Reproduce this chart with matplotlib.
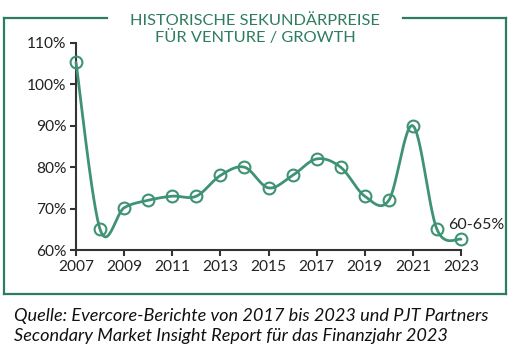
import numpy as np
import matplotlib
matplotlib.use("Agg")
import matplotlib.pyplot as plt
from matplotlib.lines import Line2D

plt.rcParams['font.family'] = ['Lato', 'DejaVu Sans']

years = [2007, 2008, 2009, 2010, 2011, 2012, 2013, 2014, 2015, 2016, 2017,
         2018, 2019, 2020, 2021, 2022, 2023]
values = [105.3, 65, 70.2, 72, 73, 73, 78, 80, 75, 78, 82, 80, 73, 72, 90, 65, 62.6]
xticks = [2007, 2009, 2011, 2013, 2015, 2017, 2019, 2021, 2023]
yticks = [60, 70, 80, 90, 100, 110]
ytick_labels = ["60%", "70%", "80%", "90%", "100%", "110%"]
title_lines = "HISTORISCHE SEKUNDÄRPREISE\nFÜR VENTURE / GROWTH"
end_label = "60-65%"
caption = ("Quelle: Evercore-Berichte von 2017 bis 2023 und PJT Partners\n"
           "Secondary Market Insight Report für das Finanzjahr 2023")

FRAME = "#2e7d5e"
LINE = "#3f9374"
AX = "#333333"


def smooth(x, y, n=30, t=1 / 6):
    x = np.asarray(x, float)
    y = np.asarray(y, float)
    xs, ys = [], []
    for i in range(len(x) - 1):
        p0 = np.array([x[i - 1] if i > 0 else x[i], y[i - 1] if i > 0 else y[i]])
        p1 = np.array([x[i], y[i]])
        p2 = np.array([x[i + 1], y[i + 1]])
        p3 = np.array([x[i + 2], y[i + 2]]) if i + 2 < len(x) else p2
        c1 = p1 + (p2 - p0) * t
        c2 = p2 - (p3 - p1) * t
        s = np.linspace(0, 1, n)[:, None]
        b = ((1 - s) ** 3) * p1 + 3 * ((1 - s) ** 2) * s * c1 + 3 * (1 - s) * s ** 2 * c2 + s ** 3 * p2
        xs.extend(b[:, 0])
        ys.extend(b[:, 1])
    return np.array(xs), np.array(ys)


fig = plt.figure(figsize=(5.12, 3.55), dpi=100)
W, H = 512, 355
ax = fig.add_axes([76 / W, 1 - 250 / H, (461 - 76) / W, (250 - 43) / H])

sx, sy = smooth(years, values)
ax.plot(sx, sy, color=LINE, lw=2.0, solid_capstyle='round', zorder=3, clip_on=False)
ax.plot(years, values, linestyle='none', marker='o', markersize=8.5,
        markerfacecolor='none', markeredgecolor=LINE, markeredgewidth=1.5,
        zorder=4, clip_on=False)

ax.set_xlim(2007, 2023)
ax.set_ylim(60, 110)
ax.set_xticks(xticks)
ax.set_xticklabels([str(v) for v in xticks])
ax.set_yticks(yticks)
ax.set_yticklabels(ytick_labels)
for s in ['top', 'right']:
    ax.spines[s].set_visible(False)
for s in ['left', 'bottom']:
    ax.spines[s].set_color(AX)
    ax.spines[s].set_linewidth(1.5)
ax.tick_params(axis='both', direction='out', length=4, width=1.5, color=AX,
               labelsize=11.2, labelcolor='#222222')
ax.tick_params(axis='x', pad=3)
ax.tick_params(axis='y', pad=3)
ax.patch.set_alpha(0)

ax.annotate(end_label, xy=(years[-1], values[-1]), xytext=(-9.5, 5.5),
            textcoords='offset points', fontsize=11.5, color='#222222',
            ha='left', va='bottom')

# frame with gap for title
fx0, fx1, fy0, fy1 = 4 / W, 506 / W, 1 - 294 / H, 1 - 18 / H
gap0, gap1 = 107 / W, 403 / W
segs = [([fx0, gap0], [fy1, fy1]), ([gap1, fx1], [fy1, fy1]),
        ([fx0, fx0], [fy1, fy0]), ([fx1, fx1], [fy1, fy0]),
        ([fx0, fx1], [fy0, fy0])]
for xs_, ys_ in segs:
    fig.add_artist(Line2D(xs_, ys_, color=FRAME, lw=1.6, transform=fig.transFigure,
                          solid_capstyle='projecting'))

fig.text(255 / W, 1 - 29.5 / H, title_lines, ha='center', va='center',
         fontsize=11.8, color=FRAME, linespacing=1.2)

fig.text(14 / W, 1 - 326 / H, caption, ha='left', va='center', fontsize=13.1,
         style='italic', color='#111111', linespacing=1.25)

fig.savefig("out.png", dpi=100)
